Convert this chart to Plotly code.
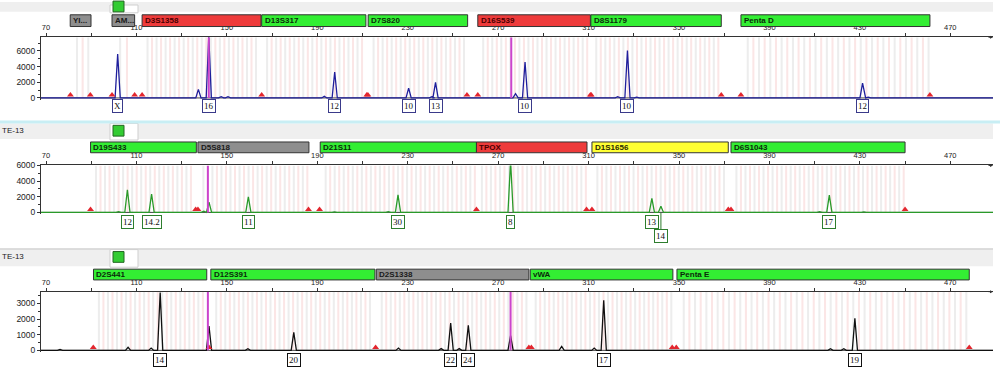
import plotly.graph_objects as go

W, H = 1000, 370

# ---------------- DATA ----------------
X_RANGE = [67.78, 488.9]
X_TICKS = list(range(70, 491, 20))
X_TICKTEXT = [str(v) if (v - 70) % 40 == 0 else "" for v in X_TICKS]

# Panel 1 (blue dye)
p1_peak_bp = [101.7, 137.4, 142.0, 147.5, 150.5, 193.1, 197.7, 230.4, 240.7, 242.3,
              277.7, 281.9, 322.9, 327.2, 331.3, 431.2, 433.7]
p1_peak_rfu = [5600, 1100, 7900, 150, 150, 200, 3300, 1250, 150, 2000,
               550, 4600, 150, 6050, 100, 1900, 100]
p1_allele_bp = [101.7, 142.0, 197.7, 230.4, 242.3, 281.9, 327.2, 431.2]
p1_allele_txt = ["X", "16", "12", "10", "13", "10", "10", "12"]
p1_allele_row = [0, 0, 0, 0, 0, 0, 0, 0]
p1_red_bp = [80.8, 89.6, 99.2, 109.2, 112.5, 165.4, 211.9, 212.4, 256.2, 261.0,
             310.8, 311.2, 368.7, 377.4, 461.0]
p1_spike_bp = [142.0, 275.8]
p1_loci = ["YI...", "AM...", "D3S1358", "D13S317", "D7S820", "D16S539", "D8S1179", "Penta D"]
p1_loci_start = [80.7, 99.2, 112.5, 165.4, 212.5, 261.0, 311.0, 377.4]
p1_loci_end = [89.9, 109.2, 165.1, 211.5, 256.5, 310.8, 368.7, 461.0]
p1_loci_kind = ["gray", "gray", "red", "green", "green", "red", "green", "green"]
p1_loci_unit = [5, 6, 4, 4, 4, 4, 4, 5]

# Panel 2 (green dye)
p2_peak_bp = [102.1, 106.0, 116.7, 139.8, 142.1, 159.5, 197.6, 221.4, 225.7,
              275.5, 338.0, 342.0, 412.2, 416.5, 431.8]
p2_peak_rfu = [100, 2900, 2350, 150, 1300, 2000, 80, 100, 2250,
               6600, 1800, 800, 100, 2200, 80]
p2_allele_bp = [106.0, 116.7, 159.5, 225.7, 275.5, 338.0, 342.0, 416.5]
p2_allele_txt = ["12", "14.2", "11", "30", "8", "13", "14", "17"]
p2_allele_row = [0, 0, 0, 0, 0, 0, 1, 0]
p2_red_bp = [89.7, 136.2, 137.2, 186.1, 191.0, 260.4, 309.1, 311.5, 371.8, 373.0, 450.0]
p2_spike_bp = [141.6]
p2_loci = ["D19S433", "D5S818", "D21S11", "TPOX", "D1S1656", "D6S1043"]
p2_loci_start = [89.7, 137.2, 191.3, 260.4, 311.5, 373.0]
p2_loci_end = [136.5, 186.3, 260.4, 309.3, 371.8, 450.0]
p2_loci_kind = ["green", "gray", "green", "red", "yellow", "green"]
p2_loci_unit = [4, 4, 4, 4, 4, 4]

# Panel 3 (black dye)
p3_peak_bp = [76.2, 106.3, 116.5, 120.5, 142.1, 159.3, 179.6, 225.9, 244.8, 249.0,
              252.8, 256.8, 275.5, 298.1, 312.5, 316.7, 417.0, 422.9, 427.8]
p3_peak_rfu = [60, 200, 150, 3700, 1550, 100, 1150, 150, 120, 1750,
               120, 1600, 950, 250, 150, 3200, 100, 100, 2050]
p3_allele_bp = [120.5, 179.6, 249.0, 256.8, 316.7, 427.8]
p3_allele_txt = ["14", "20", "22", "24", "17", "19"]
p3_allele_row = [0, 0, 0, 0, 0, 0]
p3_red_bp = [90.9, 142.1, 215.8, 283.6, 284.7, 347.0, 348.8, 478.4]
p3_spike_bp = [141.6, 275.5]
p3_loci = ["D2S441", "D12S391", "D2S1338", "vWA", "Penta E"]
p3_loci_start = [91.0, 142.9, 216.1, 284.2, 349.1]
p3_loci_end = [141.1, 215.5, 283.6, 347.3, 478.4]
p3_loci_kind = ["green", "green", "gray", "green", "green"]
p3_loci_unit = [4, 4, 4, 4, 5]

SAMPLE = "TE-13"

# ---------------- STYLE ----------------
FILL = {"green": "#33ee33", "red": "#ee3b3b", "gray": "#8e8e8e", "yellow": "#ffff33"}
TXT = {"green": "#0a2a0a", "red": "#4a0000", "gray": "#1a1a1a", "yellow": "#2a2a00"}

panels = [
    dict(top=33, bot=97, yr=[-250, 7750], yt=[0, 2000, 4000, 6000], minor=1000,
         color="#1f1f9c", box="#3a3a8a", bars=(10, 22), lab=103, lab2=118,
         peak_bp=p1_peak_bp, peak_rfu=p1_peak_rfu, al_bp=p1_allele_bp, al_txt=p1_allele_txt,
         al_row=p1_allele_row, red=p1_red_bp, spikes=p1_spike_bp,
         loci=p1_loci, ls=p1_loci_start, le=p1_loci_end, lk=p1_loci_kind, lu=p1_loci_unit, base=95),
    dict(top=164, bot=214, yr=[-250, 6000], yt=[0, 2000, 4000, 6000], minor=1000,
         color="#2a9a2a", box="#2e7d2e", bars=(140, 151), lab=221.5, lab2=235.5,
         peak_bp=p2_peak_bp, peak_rfu=p2_peak_rfu, al_bp=p2_allele_bp, al_txt=p2_allele_txt,
         al_row=p2_allele_row, red=p2_red_bp, spikes=p2_spike_bp,
         loci=p2_loci, ls=p2_loci_start, le=p2_loci_end, lk=p2_loci_kind, lu=p2_loci_unit, base=212),
    dict(top=293, bot=355, yr=[-125, 3750], yt=[0, 1000, 2000, 3000], minor=500,
         color="#111111", box="#111111", bars=(270, 281), lab=363, lab2=377,
         peak_bp=p3_peak_bp, peak_rfu=p3_peak_rfu, al_bp=p3_allele_bp, al_txt=p3_allele_txt,
         al_row=p3_allele_row, red=p3_red_bp, spikes=p3_spike_bp,
         loci=p3_loci, ls=p3_loci_start, le=p3_loci_end, lk=p3_loci_kind, lu=p3_loci_unit, base=353),
]

def py(px):
    return 1 - px / H

HALF_W = 1.15  # peak half width in bp

fig = go.Figure()
shapes = []
annotations = []
layout = {}

for i, p in enumerate(panels):
    n = "" if i == 0 else str(i + 1)
    xa, ya = "x" + n, "y" + n
    upp = (p["yr"][1] - p["yr"][0]) / (p["bot"] - p["top"])  # units per pixel

    # allele bins (gray) and variant bins (pink) as background stripes
    for s, e, u, k in zip(p["ls"], p["le"], p["lu"], p["lk"]):
        pos = s + u * 0.6
        while pos < e - 0.5:
            shapes.append(dict(type="rect", xref=xa, yref=ya, x0=pos - 0.45, x1=pos + 0.45,
                               y0=0, y1=p["yr"][1], fillcolor="#ededed",
                               line=dict(width=0), layer="below"))
            v = pos + u / 2
            if v < e - 0.5:
                shapes.append(dict(type="rect", xref=xa, yref=ya, x0=v - 0.45, x1=v + 0.45,
                                   y0=0, y1=p["yr"][1], fillcolor="#fbe6e6",
                                   line=dict(width=0), layer="below"))
            pos += u

    # baseline
    shapes.append(dict(type="line", xref=xa, yref=ya, x0=X_RANGE[0], x1=X_RANGE[1], y0=0, y1=0,
                       line=dict(color="#444444", width=1), layer="below"))
    # spikes
    for sp in p["spikes"]:
        shapes.append(dict(type="line", xref=xa, yref=ya, x0=sp, x1=sp, y0=0, y1=p["yr"][1],
                           line=dict(color="#cc44cc", width=2)))

    # peak trace
    order = sorted(zip(p["peak_bp"], p["peak_rfu"]))
    xs, ys = [X_RANGE[0]], [0]
    for b, r in order:
        xs += [b - HALF_W, b, b + HALF_W]
        ys += [0, r, 0]
    xs.append(X_RANGE[1]); ys.append(0)
    fig.add_trace(go.Scatter(x=xs, y=ys, mode="lines", xaxis=xa, yaxis=ya,
                             line=dict(color=p["color"], width=1.3), hoverinfo="skip",
                             showlegend=False))
    # red triangles
    fig.add_trace(go.Scatter(x=p["red"], y=[3 * upp] * len(p["red"]), mode="markers",
                             xaxis=xa, yaxis=ya, showlegend=False, hoverinfo="skip",
                             marker=dict(symbol="triangle-up", size=6, color="#e3262e",
                                         line=dict(width=0))))

    # axes
    layout["xaxis" + n] = dict(domain=[41 / W, 993 / W], range=X_RANGE, anchor=ya, side="top",
                               tickvals=X_TICKS, ticktext=X_TICKTEXT, showline=True,
                               linecolor="#333333", linewidth=1, ticks="outside", ticklen=3,
                               tickcolor="#333333", tickfont=dict(size=7.5, color="#222222",
                                                                  family="Liberation Sans"),
                               showgrid=False, zeroline=False, fixedrange=True)
    layout["yaxis" + n] = dict(domain=[py(p["bot"]), py(p["top"])], range=p["yr"], anchor=xa,
                               tickvals=p["yt"], showline=True, linecolor="#333333",
                               linewidth=1, ticks="outside", ticklen=3, tickcolor="#333333",
                               minor=dict(dtick=p["minor"], ticks="outside", ticklen=2,
                                          tickcolor="#333333"),
                               tickfont=dict(size=8.5, color="#222222", family="Liberation Sans"),
                               showgrid=False, zeroline=False, fixedrange=True)
    # arrow head at right end of the size axis
    annotations.append(dict(x=1, y=1, xref=xa + " domain", yref=ya + " domain", ax=-6, ay=0,
                            showarrow=True, arrowhead=2, arrowsize=0.6, arrowwidth=1,
                            arrowcolor="#333333", text=""))

    # locus bars
    b0, b1 = p["bars"]
    for name, s, e, k in zip(p["loci"], p["ls"], p["le"], p["lk"]):
        shapes.append(dict(type="rect", xref=xa, yref="paper", x0=s, x1=e, y0=py(b1), y1=py(b0),
                           fillcolor=FILL[k], line=dict(color="#333333", width=1)))
        annotations.append(dict(x=s + 0.4, y=py((b0 + b1) / 2), xref=xa, yref="paper",
                                text="<b>" + name + "</b>", showarrow=False, xanchor="left",
                                yanchor="middle",
                                font=dict(size=8, color=TXT[k], family="Liberation Sans")))

    # allele labels
    for b, t, r in zip(p["al_bp"], p["al_txt"], p["al_row"]):
        common = dict(text=t, xref=xa, yref="paper", xanchor="center", yanchor="middle",
                      font=dict(size=9, color="#111111", family="Liberation Serif"),
                      bordercolor=p["box"], borderwidth=1, borderpad=1, bgcolor="white")
        if r == 0:
            annotations.append(dict(x=b, y=py(p["lab"]), showarrow=False, **common))
        else:
            annotations.append(dict(x=b, y=py(p["base"]), showarrow=True, arrowhead=0,
                                    arrowwidth=1, arrowcolor=p["box"], ax=0,
                                    ay=p["lab2"] - p["base"], **common))

# headers
hdr_band = [(0, 7), (121, 137), (250, 267)]
for k, (t, b) in enumerate(hdr_band):
    shapes.append(dict(type="rect", xref="paper", yref="paper", x0=0, x1=993 / W,
                       y0=py(b), y1=py(t - (3 if k == 0 else 0)), fillcolor="#efefef",
                       line=dict(width=0), layer="below"))
    shapes.append(dict(type="rect", xref="paper", yref="paper", x0=110 / W, x1=138 / W,
                       y0=py(b + 1), y1=py(t), fillcolor="white",
                       line=dict(color="#cfcfcf", width=1), layer="below"))
    gt = t + 2 if k > 0 else -4
    shapes.append(dict(type="rect", xref="paper", yref="paper", x0=113 / W, x1=124 / W,
                       y0=py(gt + 11), y1=py(gt), fillcolor="#33cc33",
                       line=dict(color="#226622", width=1)))
    if k > 0:
        annotations.append(dict(x=0, y=py((t + b) / 2 - 1), xref="paper", yref="paper",
                                text=SAMPLE, showarrow=False, xanchor="left", yanchor="middle",
                                font=dict(size=8, color="#222222", family="Liberation Sans")))
# separators
shapes.append(dict(type="rect", xref="paper", yref="paper", x0=0, x1=1, y0=py(121), y1=py(118),
                   fillcolor="#c8eef4", line=dict(width=0)))
shapes.append(dict(type="line", xref="paper", yref="paper", x0=0, x1=993 / W, y0=py(249.5),
                   y1=py(249.5), line=dict(color="#d2d2d2", width=1.5)))

fig.update_layout(width=W, height=H, margin=dict(l=0, r=0, t=0, b=0),
                  paper_bgcolor="white", plot_bgcolor="white", showlegend=False,
                  shapes=shapes, annotations=annotations, **layout)

fig.write_html("out.html", config={"displayModeBar": False},
               post_script="document.body.style.margin='0';document.body.style.overflow='hidden';")
